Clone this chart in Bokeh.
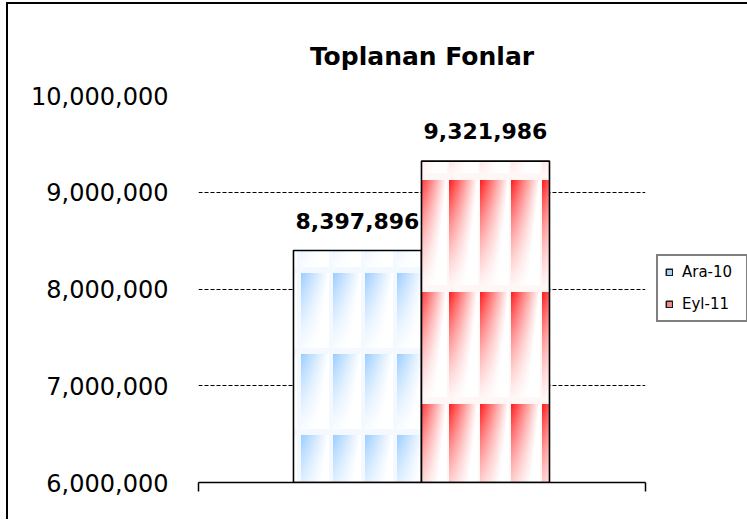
import base64
from bokeh.plotting import figure
from bokeh.layouts import row
from bokeh.models import (ColumnDataSource, Range1d, FixedTicker, NumeralTickFormatter,
                          LabelSet, Legend, LegendItem, ImageURLTexture, CustomJSTickFormatter)
from bokeh.core.properties import value
from bokeh.embed import file_html
from bokeh.resources import INLINE

# ---- data ----
series = ["Ara-10", "Eyl-11"]
values = [8397896, 9321986]
value_labels = ["8,397,896", "9,321,986"]
y_ticks = [6000000, 7000000, 8000000, 9000000, 10000000]
title_text = "Toplanan Fonlar"

# ---- styles ----
strong = ["#99CCFF", "#FF1A1A"]
pale = ["#F4F9FF", "#FFF6F6"]
legend_fill = ["#A9D2FA", "#F08C8C"]
# tile geometry: (w, h, stripe_w, stripe_h, dx, dy)
tiles = [(32, 81, 28, 75, 5, 26), (31, 112, 29, 105, 7, 64)]


def tile_url(color, bg, w, h, sw, sh, dx, dy, gid):
    parts = []
    for ox in (dx, dx - w):
        for oy in (dy, dy - h):
            parts.append(
                f'<rect x="{ox}" y="{oy}" width="{sw}" height="{sh}" fill="url(#h{gid})"/>'
                f'<rect x="{ox}" y="{oy}" width="{sw}" height="{sh}" fill="url(#v{gid})"/>')
    svg = (f'<svg xmlns="http://www.w3.org/2000/svg" width="{w}" height="{h}">'
           f'<defs><linearGradient id="h{gid}" x1="0" y1="0" x2="1" y2="0.4">'
           f'<stop offset="0" stop-color="{color}"/><stop offset="0.85" stop-color="#ffffff"/>'
           f'</linearGradient>'
           f'<linearGradient id="v{gid}" x1="0" y1="0" x2="0" y2="1">'
           f'<stop offset="0" stop-color="#ffffff" stop-opacity="0"/>'
           f'<stop offset="1" stop-color="#ffffff" stop-opacity="0.92"/></linearGradient></defs>'
           f'<rect width="{w}" height="{h}" fill="{bg}"/>' + "".join(parts) + '</svg>')
    return "data:image/svg+xml;base64," + base64.b64encode(svg.encode()).decode()


p = figure(width=647, height=515, output_backend="svg", toolbar_location=None,
           x_range=Range1d(-1.242, 2.25), y_range=Range1d(y_ticks[0], y_ticks[-1]),
           min_border_left=190, min_border_right=10, min_border_top=91, min_border_bottom=37)
p.outline_line_color = None

p.title.text = title_text
p.title.align = "center"
p.title.text_font = "DejaVu Sans"
p.title.text_font_style = "bold"
p.title.text_font_size = "25px"
p.title.text_color = "black"
p.title.standoff = 50

# bars
for i, (name, val) in enumerate(zip(series, values)):
    w, h, sw, sh, dx, dy = tiles[i]
    tex = ImageURLTexture(url=tile_url(strong[i], pale[i], w, h, sw, sh, dx, dy, i),
                          repetition="repeat")
    src = ColumnDataSource(dict(x=[i], top=[val]))
    p.vbar(x="x", top="top", bottom=y_ticks[0], width=1.0, source=src,
           fill_color=pale[i], line_color="black", line_width=1.6,
           hatch_pattern=value("tex"), hatch_extra={"tex": tex}, hatch_alpha=1.0)

# value labels
lab_src = ColumnDataSource(dict(x=list(range(len(values))), y=values, t=value_labels))
p.add_layout(LabelSet(x="x", y="y", text="t", source=lab_src, text_align="center",
                      text_baseline="alphabetic", y_offset=22,
                      text_font=value("DejaVu Sans"), text_font_style="bold",
                      text_font_size=value("22px"), text_color="black"))

# axes
p.yaxis.ticker = FixedTicker(ticks=y_ticks)
p.yaxis.formatter = NumeralTickFormatter(format="0,0")
p.yaxis.axis_line_color = None
p.yaxis.major_tick_line_color = None
p.yaxis.minor_tick_line_color = None
p.yaxis.major_tick_out = 0
p.yaxis.major_label_standoff = 30
p.yaxis.major_label_text_font = "DejaVu Sans"
p.yaxis.major_label_text_font_size = "24px"
p.yaxis.major_label_text_color = "black"

p.xaxis.ticker = FixedTicker(ticks=[-1.242, 2.25])
p.xaxis.formatter = CustomJSTickFormatter(code="return ''")
p.xaxis.axis_line_color = "black"
p.xaxis.axis_line_width = 1.5
p.xaxis.major_tick_line_color = "black"
p.xaxis.major_tick_line_width = 1.5
p.xaxis.major_tick_out = 9
p.xaxis.major_tick_in = 0
p.xaxis.minor_tick_line_color = None

p.xgrid.grid_line_color = None
p.ygrid.ticker = FixedTicker(ticks=y_ticks[1:])
p.ygrid.grid_line_color = "black"
p.ygrid.grid_line_dash = "4 2"
p.ygrid.grid_line_width = 1

# ---- legend panel (separate small figure to the right of the plot area) ----
lf = figure(width=92, height=515, output_backend="svg", toolbar_location=None,
            x_range=Range1d(0, 1), y_range=Range1d(0, 1),
            x_axis_location=None, y_axis_location=None, min_border=0)
lf.outline_line_color = None
lf.xgrid.visible = False
lf.ygrid.visible = False

nan = float("nan")
items = []
for i, name in enumerate(series):
    proxy = lf.quad(left=[nan], right=[nan], top=[nan], bottom=[nan],
                    fill_color=legend_fill[i], line_color="#1a1a1a", line_width=1.5)
    items.append(LegendItem(label=name, renderers=[proxy]))
legend = Legend(items=items, location=(1, 160), glyph_width=8, glyph_height=8,
                label_standoff=9, padding=7, spacing=14, margin=0, label_height=16,
                label_width=57,
                label_text_font="DejaVu Sans", label_text_font_size="15px",
                label_text_color="black",
                border_line_color="black", border_line_width=2,
                background_fill_color="white", background_fill_alpha=1.0)
lf.add_layout(legend, "center")

layout = row(p, lf, spacing=0)
layout.styles = {"margin-left": "6px", "margin-top": "2px",
                 "border-left": "2px solid black", "border-top": "2px solid black"}

open("out.html", "w").write(file_html(layout, INLINE))
